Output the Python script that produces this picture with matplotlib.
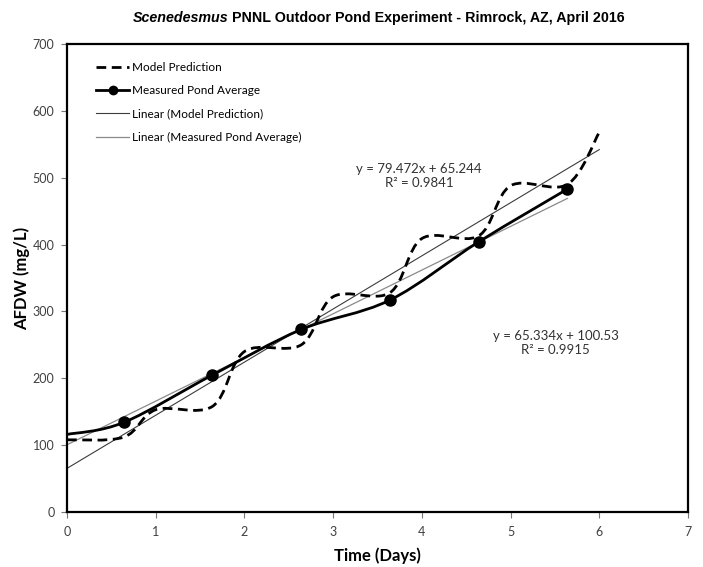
import numpy as np
import matplotlib
matplotlib.use("Agg")
import matplotlib.pyplot as plt
from matplotlib.path import Path
from matplotlib.patches import PathPatch
from matplotlib.lines import Line2D


# values
model_days = [0, 0.64, 1.0, 1.64, 2.0, 2.64, 3.0, 3.64, 4.0, 4.64, 5.0, 5.64, 6.0]
model_afdw = [108, 112, 153, 158, 240, 250, 322, 328, 409, 413, 488, 490, 568]

pond_days = [0, 0.64, 1.64, 2.64, 3.64, 4.64, 5.64]
pond_afdw = [116, 134, 205, 273, 317, 404, 483]

# trendline equations printed on the chart
model_fit = (79.472, 65.244, 0.9841)
pond_fit = (65.334, 100.53, 0.9915)

x_ticks = list(range(0, 8))
y_ticks = list(range(0, 701, 100))

BODY_FONT = "Lato"


def smooth_path(xs, ys):
    # Excel-style smoothed line: cubic bezier segments through the data points
    pts = np.column_stack([xs, ys]).astype(float)
    ext = np.vstack([pts[0], pts, pts[-1]])
    verts = [pts[0]]
    codes = [Path.MOVETO]
    for i in range(len(pts) - 1):
        p0, p1, p2, p3 = ext[i], ext[i + 1], ext[i + 2], ext[i + 3]
        verts += [p1 + (p2 - p0) / 6, p2 - (p3 - p1) / 6, p2]
        codes += [Path.CURVE4] * 3
    return Path(verts, codes)


fig = plt.figure(figsize=(7.03, 5.67), dpi=100)
ax = fig.add_axes([67 / 703, 55 / 567, 621 / 703, 468 / 567])

# trendlines
fx = np.array([0, 6.0])
ax.plot(fx, model_fit[0] * fx + model_fit[1], color="#3c3c3c", lw=0.8, zorder=2)
px = np.array([0, pond_days[-1]])
ax.plot(px, pond_fit[0] * px + pond_fit[1], color="#8a8a8a", lw=0.9, zorder=2)

# model prediction (dashed smooth)
ax.add_patch(PathPatch(smooth_path(model_days, model_afdw), fill=False,
                       edgecolor="black", lw=2.0, linestyle=(0, (3.5, 2)),
                       capstyle="butt", zorder=3))

# measured pond average (solid smooth + markers)
ax.add_patch(PathPatch(smooth_path(pond_days, pond_afdw), fill=False,
                       edgecolor="black", lw=2.0, zorder=4))
ax.plot(pond_days[1:], pond_afdw[1:], "o", color="black", ms=8, zorder=5)

ax.set_xlim(0, 7)
ax.set_ylim(0, 700)
ax.set_xticks(x_ticks)
ax.set_yticks(y_ticks)
ax.tick_params(direction="out", length=4, width=0.8, color="#777777",
               labelcolor="#404040", labelsize=9)
for lab in ax.get_xticklabels() + ax.get_yticklabels():
    lab.set_fontfamily(BODY_FONT)
ax.tick_params(axis="y", pad=5)
ax.tick_params(axis="x", pad=6)
for sp in ax.spines.values():
    sp.set_linewidth(1.6)
    sp.set_color("black")

ax.set_xlabel("Time (Days)", fontfamily=BODY_FONT, fontweight="bold", fontsize=12, labelpad=7)
ax.set_ylabel("AFDW (mg/L)", fontfamily=BODY_FONT, fontweight="bold", fontsize=12, labelpad=2)

# equations
ax.text(3.97, 502, "y = %.3fx + %.3f\nR² = %.4f" % model_fit, ha="center", va="center",
        fontfamily=BODY_FONT, fontsize=9.5, color="#333333", linespacing=1.2)
ax.text(5.51, 253, "y = %.3fx + %.2f\nR² = %.4f" % pond_fit, ha="center", va="center",
        fontfamily=BODY_FONT, fontsize=9.5, color="#333333", linespacing=1.2)

handles = [
    Line2D([], [], color="black", lw=2.0, linestyle=(0, (3.5, 2))),
    Line2D([], [], color="black", lw=2.0, marker="o", ms=6),
    Line2D([], [], color="#3c3c3c", lw=0.8),
    Line2D([], [], color="#8a8a8a", lw=0.9),
]
labels = ["Model Prediction", "Measured Pond Average",
          "Linear (Model Prediction)", "Linear (Measured Pond Average)"]
ax.legend(handles, labels, loc="upper left", bbox_to_anchor=(0.03, 0.985),
          frameon=False, prop={"family": BODY_FONT, "size": 8.5},
          handlelength=2.8, handletextpad=0.2, labelspacing=1.05)

# title with italic genus name
title_y = 1 - 18 / 567
t1 = fig.text(0, title_y, "Scenedesmus", fontfamily="Liberation Sans",
              fontweight="bold", fontstyle="italic", fontsize=10.3, va="center")
t2 = fig.text(0, title_y, " PNNL Outdoor Pond Experiment - Rimrock, AZ, April 2016",
              fontfamily="Liberation Sans", fontweight="bold", fontsize=10.3, va="center")
renderer = fig.canvas.get_renderer()
w1 = t1.get_window_extent(renderer).width / fig.bbox.width
w2 = t2.get_window_extent(renderer).width / fig.bbox.width
x0 = 379 / 703 - (w1 + w2) / 2
t1.set_x(x0)
t2.set_x(x0 + w1)

fig.savefig("out.png", dpi=100)
